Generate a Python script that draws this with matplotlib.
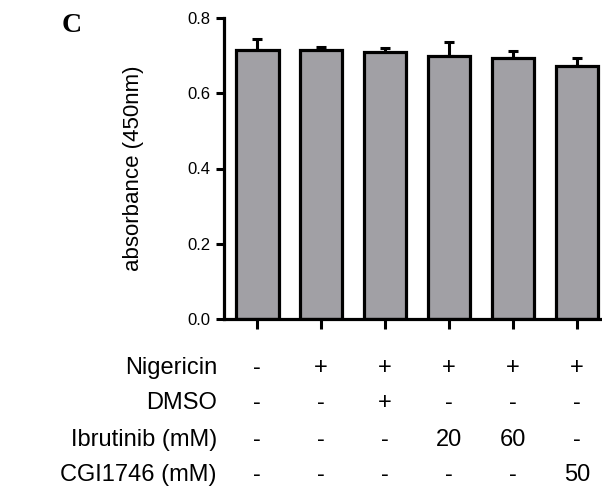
import matplotlib
matplotlib.use("Agg")
import matplotlib.pyplot as plt
import matplotlib.transforms as mtransforms

plt.rcParams['font.family'] = ['Liberation Sans', 'DejaVu Sans']

# datos
valores = [0.715, 0.714, 0.709, 0.698, 0.695, 0.673]
errores = [0.030, 0.008, 0.012, 0.037, 0.016, 0.022]

filas = ["Nigericin", "DMSO", "Ibrutinib (mM)", "CGI1746 (mM)"]
tabla = [
    ["-", "+", "+", "+", "+", "+"],
    ["-", "-", "+", "-", "-", "-"],
    ["-", "-", "-", "20", "60", "-"],
    ["-", "-", "-", "-", "-", "50"],
]
yticks = [0.0, 0.2, 0.4, 0.6, 0.8]

W, H = 602, 492
fig = plt.figure(figsize=(W / 100, H / 100), dpi=100)
ax = fig.add_axes([224 / W, (H - 319) / H, 1 - 224 / W, (319 - 18) / H])

x = list(range(len(valores)))
ax.bar(x, valores, width=0.665, color='#a1a0a5', edgecolor='black',
       linewidth=2.3, zorder=2)
ax.errorbar(x, valores, yerr=[[0] * len(errores), errores], fmt='none',
            ecolor='black', elinewidth=2.2, capsize=3.6, capthick=2.2, zorder=1)

ax.set_xlim(-0.52, 5.39)
ax.set_ylim(0, 0.8)
ax.set_yticks(yticks)
ax.set_yticklabels([f"{v:.1f}" for v in yticks], fontsize=12)
ax.set_xticks(x)
ax.set_xticklabels([])
ax.tick_params(axis='y', direction='out', length=6, width=2.2, pad=4)
ax.tick_params(axis='x', direction='out', length=7, width=2.2)
for s in ['top', 'right']:
    ax.spines[s].set_visible(False)
for s in ['left', 'bottom']:
    ax.spines[s].set_linewidth(2.3)

ax.set_ylabel("absorbance (450nm)", fontsize=16)
ax.yaxis.set_label_coords(-0.212, 0.5)

fig.text(72 / W, 1 - 25 / H, "C", family='Liberation Serif', weight='bold',
         fontsize=20, ha='center', va='center')

trans = mtransforms.blended_transform_factory(ax.transData, fig.transFigure)
filas_y = [368, 403, 440, 475]
for nombre, fila, py in zip(filas, tabla, filas_y):
    fig.text(217 / W, 1 - py / H, nombre, fontsize=17, ha='right', va='center')
    for i, celda in enumerate(fila):
        ax.text(i, 1 - py / H, celda, fontsize=17, ha='center', va='center',
                transform=trans, clip_on=False)

fig.savefig("out.png", dpi=100)
